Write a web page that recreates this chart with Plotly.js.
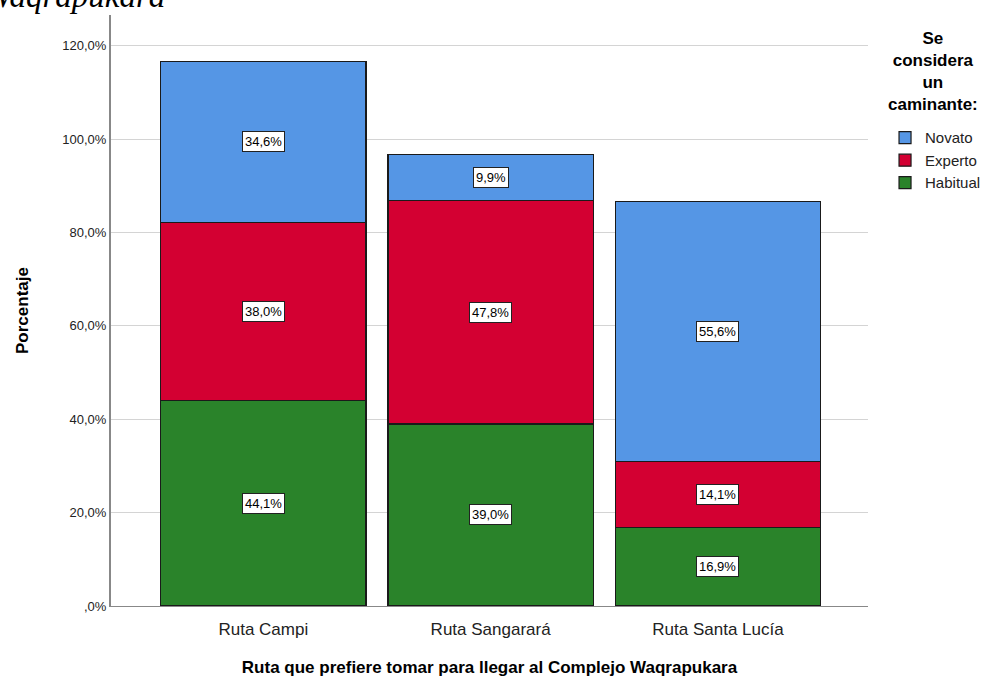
<!DOCTYPE html>
<html>
<head>
<meta charset="utf-8">
<script src="https://cdn.plot.ly/plotly-3.0.1.min.js"></script>
<style>html,body{margin:0;padding:0;background:#fff;}#chart{width:998px;height:683px;}</style>
</head>
<body>
<div id="chart"></div>
<script>
const categories = ['Ruta Campi', 'Ruta Sangarará', 'Ruta Santa Lucía'];
const habitual = [44.1, 39.0, 16.9];
const experto = [38.0, 47.8, 14.1];
const novato = [34.6, 9.9, 55.6];
const seriesNames = ['Habitual', 'Experto', 'Novato'];
const seriesColors = ['#2a832a', '#d30032', '#5596e5'];
const yTickVals = [0, 20, 40, 60, 80, 100, 120];
const yTickText = [',0%', '20,0%', '40,0%', '60,0%', '80,0%', '100,0%', '120,0%'];
const legendTitle = ['Se', 'considera', 'un', 'caminante:'];

const seriesVals = [habitual, experto, novato];
const fmt = v => v.toFixed(1).replace('.', ',') + '%';

const traces = seriesVals.map((vals, i) => ({
  type: 'bar',
  x: categories.map((c, k) => k),
  y: vals,
  name: seriesNames[i],
  width: 0.903,
  marker: {color: seriesColors[i], line: {color: '#1a1a1a', width: 1.2}},
  hoverinfo: 'none'
}));

const annotations = [];
categories.forEach((c, k) => {
  let base = 0;
  seriesVals.forEach((vals, i) => {
    const v = vals[k];
    annotations.push({
      x: k, y: base + v / 2, xref: 'x', yref: 'y',
      text: fmt(v), showarrow: false,
      font: {family: 'Arial, Liberation Sans, sans-serif', size: 13, color: '#000'},
      bgcolor: '#fff', bordercolor: '#222', borderwidth: 1, borderpad: 2
    });
    base += v;
  });
});
annotations.push({
  xref: 'paper', yref: 'paper', x: 0, y: 1, xanchor: 'left', yanchor: 'bottom',
  xshift: -128, yshift: -1,
  text: '<i>Waqrapukara</i>', showarrow: false,
  font: {family: 'Liberation Serif, DejaVu Serif, serif', size: 33, color: '#000'}
});
annotations.push({
  xref: 'paper', yref: 'paper', x: 1, y: 1, xanchor: 'center', yanchor: 'top',
  xshift: 65, yshift: -12, align: 'center',
  text: '<b>' + legendTitle.join('<br>') + '</b>', showarrow: false,
  font: {family: 'Arial, Liberation Sans, sans-serif', size: 17, color: '#000'}
});

const layout = {
  width: 998, height: 683,
  margin: {l: 111, r: 130, t: 15, b: 77},
  paper_bgcolor: '#fff', plot_bgcolor: '#fff',
  barmode: 'stack',
  showlegend: true,
  font: {family: 'Arial, Liberation Sans, sans-serif', color: '#000'},
  xaxis: {
    range: [-0.67, 2.66],
    tickvals: [0, 1, 2], ticktext: categories,
    tickfont: {size: 17, color: '#222'},
    ticklabelstandoff: 8,
    showgrid: false, zeroline: false,
    showline: true, linecolor: '#888', linewidth: 1,
    ticks: '', ticklen: 0,
    title: {text: '<b>Ruta que prefiere tomar para llegar al Complejo Waqrapukara</b>', font: {size: 17, color: '#000'}, standoff: 22}
  },
  yaxis: {
    range: [0, 126.6],
    tickvals: yTickVals, ticktext: yTickText,
    tickfont: {size: 13, color: '#222'},
    showgrid: true, gridcolor: '#d4d4d4', gridwidth: 1,
    zeroline: false,
    showline: true, linecolor: '#888', linewidth: 2,
    ticks: '',
    title: {text: '<b>Porcentaje</b>', font: {size: 17, color: '#000'}, standoff: 29}
  },
  legend: {
    x: 1.0225, y: 0.82, xanchor: 'left', yanchor: 'top',
    traceorder: 'reversed',
    font: {size: 15, color: '#222'},
    itemwidth: 30,
    tracegroupgap: 0
  },
  annotations: annotations
};

Plotly.newPlot('chart', traces, layout, {displayModeBar: false, staticPlot: true});
</script>
</body>
</html>
